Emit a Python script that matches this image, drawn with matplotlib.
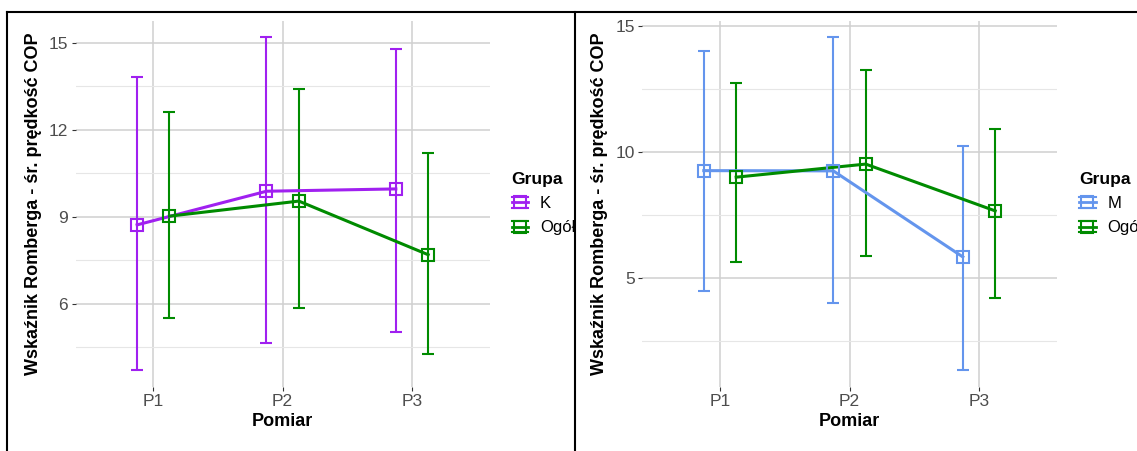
import numpy as np
import matplotlib
matplotlib.use("Agg")
import matplotlib.pyplot as plt
from matplotlib.lines import Line2D
from matplotlib.legend_handler import HandlerBase
from matplotlib.transforms import Bbox, TransformedBbox

plt.rcParams['font.family'] = ['Liberation Sans', 'DejaVu Sans']

# data
pomiar = ['P1', 'P2', 'P3']

# left panel: group K vs Ogół
k_mean = [8.72, 9.88, 9.96]
k_low = [3.71, 4.66, 5.03]
k_high = [13.82, 15.19, 14.79]
ogol_l_mean = [9.02, 9.54, 7.69]
ogol_l_low = [5.50, 5.86, 4.28]
ogol_l_high = [12.62, 13.42, 11.20]

# right panel: group M vs Ogół
m_mean = [9.26, 9.25, 5.83]
m_low = [4.46, 3.98, 1.33]
m_high = [14.01, 14.56, 10.24]
ogol_r_mean = [9.00, 9.52, 7.66]
ogol_r_low = [5.62, 5.86, 4.19]
ogol_r_high = [12.73, 13.27, 10.91]

left_major = [6, 9, 12, 15]
left_minor = [4.5, 7.5, 10.5, 13.5]
right_major = [5, 10, 15]
right_minor = [2.5, 7.5, 12.5]

ylab = 'Wskaźnik Romberga - śr. prędkość COP'
purple = '#A020F0'
green = '#008B00'
blue = '#6495ED'

W, H = 1137, 451
dodge = 0.125


class KeyHandler(HandlerBase):
    # ggplot-like key: square + line + errorbar caps
    def create_artists(self, legend, orig_handle, xdescent, ydescent,
                       width, height, fontsize, trans):
        col = orig_handle.get_color()
        x0 = -xdescent
        x1 = x0 + width
        ym = -ydescent + height / 2
        h = 4.0
        arts = []
        for yy, lw in [(ym, 2.0), (ym - h, 1.5), (ym + h, 1.5)]:
            ln = Line2D([x0, x1], [yy, yy], color=col, lw=lw, transform=trans)
            arts.append(ln)
        sq = Line2D([(x0 + x1) / 2], [ym], marker='s', ms=8, mfc='none',
                    mec=col, mew=1.5, transform=trans)
        arts.append(sq)
        return arts


def px_rect(x0, ytop, x1, ybot):
    return [x0 / W, 1 - ybot / H, (x1 - x0) / W, (ybot - ytop) / H]


def panel(ax, series, major, minor, leg_x):
    x = np.arange(len(pomiar))
    lows = [v for s in series for v in s[3]]
    highs = [v for s in series for v in s[4]]
    lo, hi = min(lows), max(highs)
    pad = 0.05 * (hi - lo)

    for name, col, mean, low, high, off in series:
        mean = np.array(mean)
        xs = x + off
        ax.errorbar(xs, mean, yerr=[mean - np.array(low), np.array(high) - mean],
                    fmt='none', ecolor=col, elinewidth=1.5, capsize=4.4,
                    capthick=1.5, zorder=3)
        ax.plot(xs, mean, color=col, lw=2.2, zorder=4)
        ax.plot(xs, mean, 's', mfc='none', mec=col, ms=8, mew=1.5, zorder=5)

    ax.set_xlim(-0.6, len(pomiar) - 0.4)
    ax.set_ylim(lo - pad, hi + pad)
    ax.set_xticks(x)
    ax.set_xticklabels(pomiar)
    ax.set_yticks(major)
    ax.set_yticks(minor, minor=True)
    ax.grid(True, which='major', color='#D0D0D0', lw=1.1)
    ax.grid(True, which='minor', axis='y', color='#E6E6E6', lw=0.8)
    ax.set_axisbelow(True)
    for sp in ax.spines.values():
        sp.set_visible(False)
    ax.tick_params(which='major', length=3, width=0.8, color='#333333',
                   labelcolor='#4D4D4D', labelsize=12.5, pad=2.5)
    ax.tick_params(which='minor', length=0)

    ax.set_ylabel(ylab, fontsize=13, fontweight='bold')
    ax.yaxis.set_label_coords(-0.103, 0.5)
    ax.yaxis.label.set_verticalalignment('center')
    ax.set_xlabel('Pomiar', fontsize=13, fontweight='bold')
    ax.xaxis.set_label_coords(0.5, -0.0956)
    ax.xaxis.label.set_verticalalignment('center')

    handles = [Line2D([], [], color=s[1], label=s[0]) for s in series]
    leg = ax.legend(handles=handles, title='Grupa',
                    handler_map={Line2D: KeyHandler()},
                    loc='upper left', bbox_to_anchor=(leg_x / W, 1 - 172 / H),
                    bbox_transform=fig.transFigure, frameon=False,
                    borderpad=0, borderaxespad=0, fontsize=12,
                    title_fontproperties={'weight': 'bold', 'size': 12.5},
                    alignment='left', handlelength=1.0, handletextpad=0.7,
                    labelspacing=0.55)
    return leg


fig = plt.figure(figsize=(W / 100, H / 100), dpi=100)
ax1 = fig.add_axes(px_rect(75.7, 20.7, 489.6, 386.7))
ax2 = fig.add_axes(px_rect(642.3, 20.7, 1056.7, 386.7))

leg1 = panel(ax1, [('K', purple, k_mean, k_low, k_high, -dodge),
                   ('Ogół', green, ogol_l_mean, ogol_l_low, ogol_l_high, dodge)],
             left_major, left_minor, 511.7)
leg2 = panel(ax2, [('M', blue, m_mean, m_low, m_high, -dodge),
                   ('Ogół', green, ogol_r_mean, ogol_r_low, ogol_r_high, dodge)],
             right_major, right_minor, 1079)

# left legend is cut off by the cell border
clip = TransformedBbox(Bbox([[0, 0], [574 / W, 1]]), fig.transFigure)
for t in leg1.get_texts():
    t.set_clip_box(clip)
    t.set_clip_on(True)

# table cell borders
for xs, ys in [([7.3 / W, 1], [1 - 12.3 / H, 1 - 12.3 / H]),
               ([7.3 / W, 7.3 / W], [0, 1 - 12.3 / H]),
               ([574.5 / W, 574.5 / W], [0, 1 - 12.3 / H])]:
    fig.add_artist(Line2D(xs, ys, transform=fig.transFigure, color='black', lw=1.5))

fig.savefig('out.png', dpi=100)
